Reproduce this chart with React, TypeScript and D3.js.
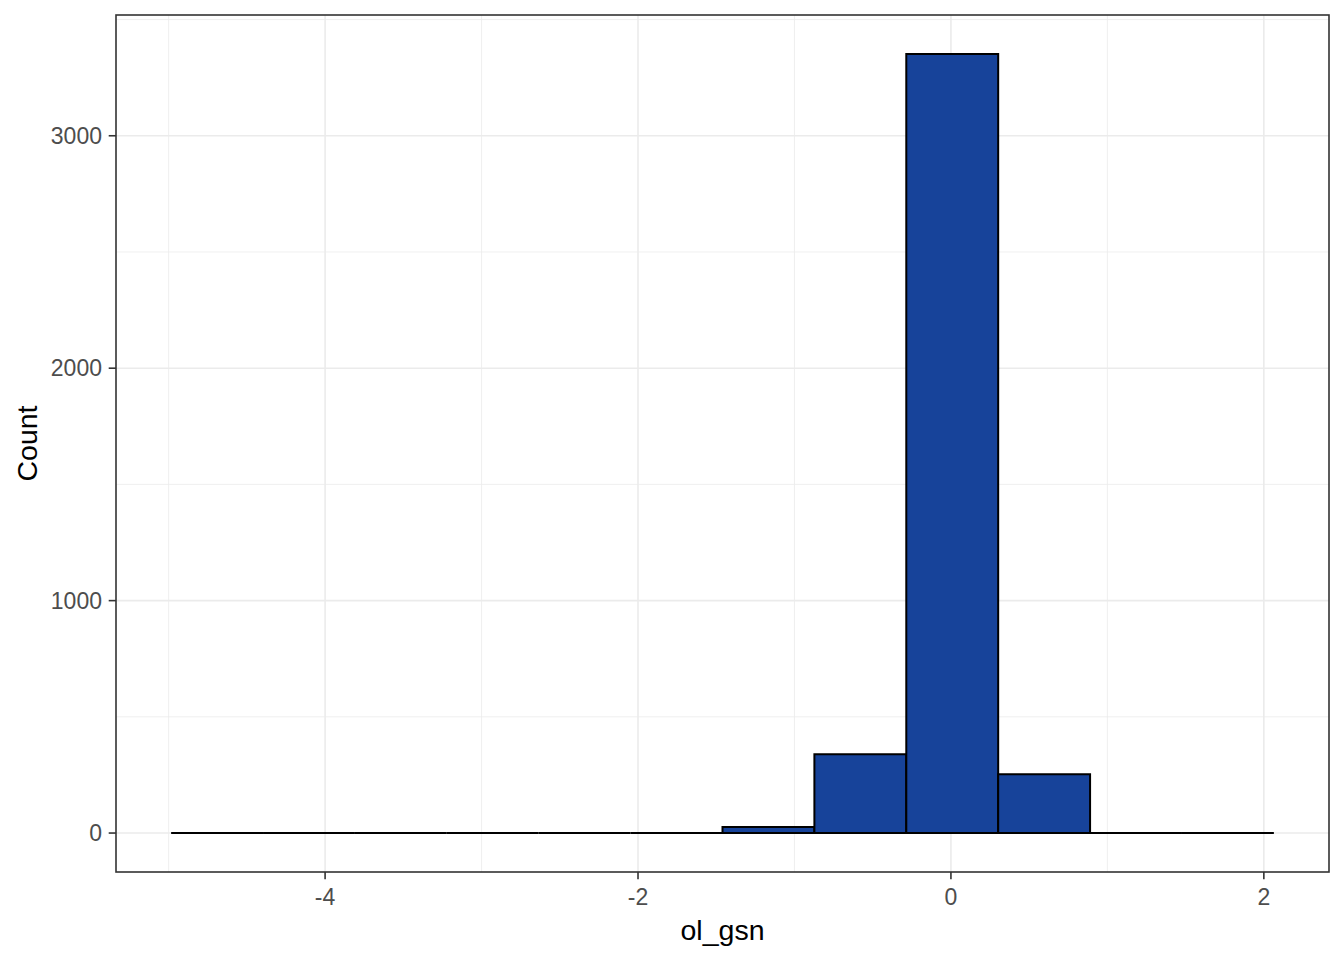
import React from "react";
import * as d3 from "d3";

const binStart = -4.984;
const binEnd = 2.064;
const binCount = 12;
const counts = [0, 0, 0, 0, 0, 0, 26, 339, 3352, 253, 0, 0];
const xTicks = [-4, -2, 0, 2];
const xMinor = [-5, -3, -1, 1];
const yTicks = [0, 1000, 2000, 3000];
const yMinor = [500, 1500, 2500, 3500];
const xTitle = "ol_gsn";
const yTitle = "Count";

const W = 1344, H = 960;
const P = { left: 116, right: 1329, top: 15, bottom: 872 };

export default function App() {
  const bw = (binEnd - binStart) / binCount;
  const bins = counts.map((c, i) => ({ x0: binStart + i * bw, x1: binStart + (i + 1) * bw, c }));
  const xr = binEnd - binStart;
  const x = d3.scaleLinear().domain([binStart - 0.05 * xr, binEnd + 0.05 * xr]).range([P.left, P.right]);
  const ymax = d3.max(counts) as number;
  const y = d3.scaleLinear().domain([-0.05 * ymax, ymax * 1.05]).range([P.bottom, P.top]);
  const font = "'Liberation Sans', Arial, sans-serif";
  const barPath = (b: { x0: number; x1: number; c: number }) => {
    const p = d3.path();
    p.moveTo(x(b.x0), y(0));
    p.lineTo(x(b.x0), y(b.c));
    p.lineTo(x(b.x1), y(b.c));
    p.lineTo(x(b.x1), y(0));
    p.closePath();
    return p.toString();
  };
  return (
    <svg width={W} height={H} style={{ position: "absolute", left: 0, top: 0, background: "#fff" }} fontFamily={font}>
      <rect x={0} y={0} width={W} height={H} fill="#fff" />
      {xMinor.map((v) => (
        <line key={"xm" + v} x1={x(v)} x2={x(v)} y1={P.top} y2={P.bottom} stroke="#EBEBEB" strokeWidth={0.8} />
      ))}
      {yMinor.filter((v) => y(v) > P.top).map((v) => (
        <line key={"ym" + v} x1={P.left} x2={P.right} y1={y(v)} y2={y(v)} stroke="#EBEBEB" strokeWidth={0.8} />
      ))}
      {xTicks.map((v) => (
        <line key={"xg" + v} x1={x(v)} x2={x(v)} y1={P.top} y2={P.bottom} stroke="#EBEBEB" strokeWidth={1.6} />
      ))}
      {yTicks.map((v) => (
        <line key={"yg" + v} x1={P.left} x2={P.right} y1={y(v)} y2={y(v)} stroke="#EBEBEB" strokeWidth={1.6} />
      ))}
      {bins.map((b, i) => (
        <path key={"b" + i} d={barPath(b)} fill="#17439A" stroke="#000" strokeWidth={2} strokeLinejoin="miter" />
      ))}
      <rect x={P.left} y={P.top} width={P.right - P.left} height={P.bottom - P.top} fill="none" stroke="#333333" strokeWidth={1.6} />
      {xTicks.map((v) => (
        <g key={"xt" + v}>
          <line x1={x(v)} x2={x(v)} y1={P.bottom} y2={P.bottom + 7.3} stroke="#333333" strokeWidth={1.6} />
          <text x={x(v)} y={P.bottom + 33} textAnchor="middle" fontSize={23} fill="#4D4D4D">{v}</text>
        </g>
      ))}
      {yTicks.map((v) => (
        <g key={"yt" + v}>
          <line x1={P.left - 7.3} x2={P.left} y1={y(v)} y2={y(v)} stroke="#333333" strokeWidth={1.6} />
          <text x={P.left - 14} y={y(v) + 8.2} textAnchor="end" fontSize={23} fill="#4D4D4D">{v}</text>
        </g>
      ))}
      <text x={(P.left + P.right) / 2} y={940} textAnchor="middle" fontSize={28.5} fill="#000">{xTitle}</text>
      <text transform={`translate(37,${(P.top + P.bottom) / 2}) rotate(-90)`} textAnchor="middle" fontSize={28.5} fill="#000">{yTitle}</text>
    </svg>
  );
}
